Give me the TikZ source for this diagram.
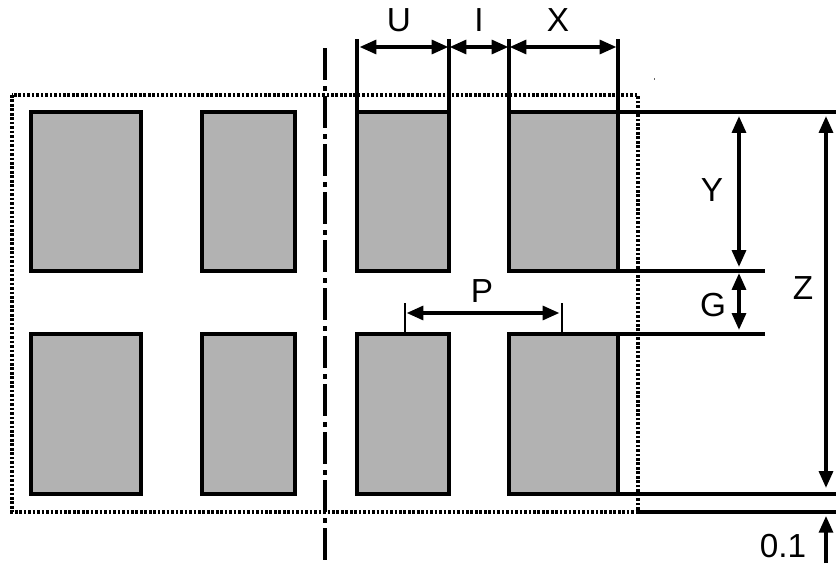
\documentclass[tikz,border=0pt]{standalone}
\usepackage{fontspec}
\setmainfont{Liberation Sans}
\usetikzlibrary{arrows.meta}
\definecolor{padgray}{gray}{0.70}
\tikzset{
  pad/.style={draw=black,fill=padgray,line width=2.3pt,inner sep=0pt,outer sep=0pt},
  lead/.style={line width=2.3pt,draw=black},
  thinlead/.style={line width=2.1pt,draw=black},
  dim/.style={line width=2.3pt,draw=black,{Triangle[length=12.5pt,width=10.5pt]}-{Triangle[length=12.5pt,width=10.5pt]},shorten >=0.5pt,shorten <=0.5pt},
  single/.style={line width=2.3pt,draw=black,-{Triangle[length=12.5pt,width=10.5pt]}},
  lab/.style={font=\fontsize{25}{25}\selectfont,inner sep=0pt,anchor=center},
}
\begin{document}
\begin{tikzpicture}[x=0.75pt,y=-0.75pt]
\useasboundingbox (0,0) rectangle (836,564);
\fill[white] (0,0) rectangle (836,564);
% pads
\foreach \n/\l/\r in {a/31/141,b/202/295,c/357/449,d/509/618}{
  \node[pad,minimum width={(\r-\l)*0.75pt},minimum height=119.25pt,anchor=north west] (\n1) at (\l,112) {};
  \node[pad,minimum width={(\r-\l)*0.75pt},minimum height=120pt,anchor=north west] (\n2) at (\l,334) {};
}
% outline
\coordinate (ol) at (12,95);
\coordinate (or) at (638,512);
\draw[line width=2.3pt,dash pattern=on 2pt off 1.35pt] (ol) rectangle (or);
% centre line
\coordinate (ct) at (325,48);
\coordinate (cb) at (325,561);
\draw[line width=2.3pt,dash pattern=on 24pt off 4.5pt on 3.75pt off 3.75pt] (ct) -- (cb);
% extension lines top
\coordinate (u1) at (357,39); \coordinate (u2) at (449,39);
\coordinate (x1) at (509,39); \coordinate (x2) at (618,39);
\draw[lead] (u1) -- (c1.north west);
\draw[lead] (u2) -- (c1.north east);
\draw[lead] (x1) -- (d1.north west);
\draw[lead] (x2) -- (d1.north east);
% arrows top
\coordinate (ua) at (359,47); \coordinate (ub) at (449,47);
\coordinate (xa) at (509,47); \coordinate (xb) at (617,47);
\draw[dim] (ua) -- (ub);
\draw[dim] (ub) -- (xa);
\draw[dim] (xa) -- (xb);
\node[lab] (lu) at (399,20) {U};
\node[lab] (li) at (479,20) {I};
\node[lab] (lx) at (558,20) {X};
% right extension lines
\coordinate (r1) at (836,112); \coordinate (r2) at (765,271);
\coordinate (r3) at (765,334); \coordinate (r4) at (836,494);
\coordinate (r5) at (836,512); \coordinate (r5s) at (636,512);
\draw[lead] (d1.north east) -- (r1);
\draw[lead] (d1.south east) -- (r2);
\draw[lead] (d2.north east) -- (r3);
\draw[lead] (d2.south east) -- (r4);
\draw[lead] (r5s) -- (r5);
% vertical dims
\coordinate (ya) at (739,115.5); \coordinate (yb) at (739,267.5);
\coordinate (ga) at (739,272.5); \coordinate (gb) at (739,330.5);
\coordinate (za) at (826,115.5); \coordinate (zb) at (826,488.5);
\coordinate (ta) at (826,563); \coordinate (tb) at (826,516);
\draw[dim] (ya) -- (yb);
\draw[dim] (ga) -- (gb);
\draw[dim] (za) -- (zb);
\draw[single] (ta) -- (tb);
\node[lab] (ly) at (712,190) {Y};
\node[lab] (lg) at (713,305) {G};
\node[lab] (lz) at (803,288.5) {Z};
\node[lab] (lt) at (783,546) {0.1};
% P
\coordinate (p1) at (405,303); \coordinate (p2) at (562,303);
\coordinate (p1b) at (405,334); \coordinate (p2b) at (562,334);
\coordinate (pa) at (406,313); \coordinate (pb) at (560,313);
\draw[thinlead] (p1) -- (p1b);
\draw[thinlead] (p2) -- (p2b);
\draw[dim] (pa) -- (pb);
\node[lab] (lp) at (482,291.5) {P};
% stray speck
\coordinate (s1) at (654,78); \coordinate (s2) at (654,80);
\draw[line width=0.5pt,draw=black!60] (s1) -- (s2);
\end{tikzpicture}
\end{document}
